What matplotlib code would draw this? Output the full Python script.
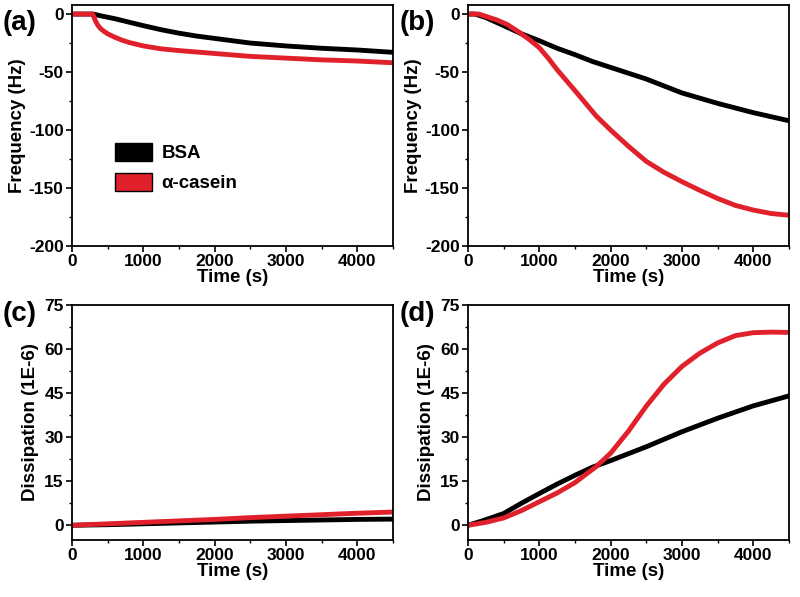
import matplotlib.pyplot as plt
from matplotlib.patches import Patch
from matplotlib.ticker import MultipleLocator

plt.rcParams['font.family'] = ['Liberation Sans', 'DejaVu Sans']
plt.rcParams['font.weight'] = 'bold'
plt.rcParams['axes.unicode_minus'] = False

RED = '#e0202a'

# (a) frequency, slow adsorption
ta_bsa = [0, 150, 300, 400, 600, 800, 1000, 1250, 1500, 1750, 2000, 2500, 3000, 3500, 4000, 4500]
fa_bsa = [0, 0, 0, -1.5, -4, -7, -10, -13.5, -16.5, -19, -21, -25, -27.5, -29.5, -31, -33]
ta_cas = [0, 150, 290, 310, 330, 360, 400, 450, 500, 600, 700, 800, 1000, 1250, 1500, 2000, 2500, 3000, 3500, 4000, 4500]
fa_cas = [0, 0, 0, -3, -6, -9.5, -12.5, -15, -17, -20, -22.5, -24.5, -27.5, -30, -31.5, -34, -36.5, -38, -39.5, -40.5, -42]

# (b) frequency
tb_bsa = [0, 100, 250, 500, 750, 1000, 1250, 1500, 1750, 2000, 2500, 3000, 3500, 4000, 4500]
fb_bsa = [0, 0, -3, -10, -17, -23, -29.5, -35, -41, -46, -56, -68, -77, -85, -92]
tb_cas = [0, 150, 300, 400, 550, 700, 850, 1000, 1125, 1250, 1500, 1800, 2000, 2250, 2500, 2750, 3000, 3250, 3500, 3750, 4000, 4250, 4500]
fb_cas = [0, 0, -3, -5, -9, -15, -21.5, -29, -38, -48, -66, -88, -100, -114, -127, -136.5, -144.5, -152, -159, -165, -169, -172, -173.5]

# (c) dissipation
tc = [0, 500, 1000, 1500, 2000, 2500, 3000, 3500, 4000, 4500]
dc_bsa = [0, 0.2, 0.5, 0.8, 1.1, 1.4, 1.6, 1.8, 2.0, 2.1]
dc_cas = [0, 0.5, 1.0, 1.5, 2.0, 2.6, 3.1, 3.6, 4.1, 4.5]

# (d) dissipation
td_bsa = [0, 200, 500, 750, 1000, 1250, 1500, 1750, 2000, 2500, 3000, 3500, 4000, 4500]
dd_bsa = [0, 1.5, 4, 7.5, 10.8, 14, 17, 19.8, 22, 26.7, 31.8, 36.4, 40.6, 44]
td_cas = [0, 250, 500, 750, 1000, 1250, 1500, 1800, 2000, 2250, 2500, 2750, 3000, 3250, 3500, 3750, 4000, 4250, 4500]
dd_cas = [0, 1, 2.5, 5, 8, 11, 14.5, 20, 24.5, 32, 40.5, 48, 54, 58.5, 62, 64.5, 65.5, 65.7, 65.6]

fig = plt.figure(figsize=(8, 5.97), dpi=100)
pos = {
    'a': [0.090, 0.588, 0.401, 0.404],
    'b': [0.585, 0.588, 0.401, 0.404],
    'c': [0.090, 0.0955, 0.401, 0.394],
    'd': [0.585, 0.0955, 0.401, 0.394],
}
label_xy = {'a': (0.003, 0.961), 'b': (0.499, 0.961), 'c': (0.003, 0.474), 'd': (0.499, 0.474)}
panels = {
    'a': (ta_bsa, fa_bsa, ta_cas, fa_cas),
    'b': (tb_bsa, fb_bsa, tb_cas, fb_cas),
    'c': (tc, dc_bsa, tc, dc_cas),
    'd': (td_bsa, dd_bsa, td_cas, dd_cas),
}

for key in 'abcd':
    ax = fig.add_axes(pos[key])
    t1, y1, t2, y2 = panels[key]
    ax.plot(t1, y1, color='black', lw=3.5)
    ax.plot(t2, y2, color=RED, lw=3.5)
    if key in 'ab':
        ax.set_ylim(-200, 8)
        ax.yaxis.set_major_locator(MultipleLocator(50))
        ax.yaxis.set_minor_locator(MultipleLocator(25))
        ax.set_ylabel('Frequency (Hz)', fontsize=13.5, fontweight='bold', labelpad=2)
    else:
        ax.set_ylim(-5, 75)
        ax.yaxis.set_major_locator(MultipleLocator(15))
        ax.yaxis.set_minor_locator(MultipleLocator(7.5))
        ax.set_ylabel('Dissipation (1E-6)', fontsize=13.5, fontweight='bold', labelpad=4)
    ax.set_xlim(0, 4500)
    ax.xaxis.set_major_locator(MultipleLocator(1000))
    ax.xaxis.set_minor_locator(MultipleLocator(500))
    ax.set_xlabel('Time (s)', fontsize=13.5, fontweight='bold', labelpad=0)
    ax.tick_params(which='major', direction='out', length=4, width=1.2, labelsize=12.5, pad=2)
    ax.tick_params(which='minor', direction='out', length=2.5, width=1)
    for s in ax.spines.values():
        s.set_linewidth(1.3)
    fig.text(label_xy[key][0], label_xy[key][1], '(%s)' % key, fontsize=20,
             fontweight='bold', va='center', ha='left')
    if key == 'a':
        handles = [Patch(facecolor='black', edgecolor='black', label='BSA'),
                   Patch(facecolor=RED, edgecolor='black', label='α-casein')]
        ax.legend(handles=handles, loc='center left', bbox_to_anchor=(0.08, 0.325),
                  frameon=False, fontsize=13.5, handlelength=2.0, handleheight=1.1,
                  handletextpad=0.5, labelspacing=0.55)

fig.savefig('out.png', dpi=100)
